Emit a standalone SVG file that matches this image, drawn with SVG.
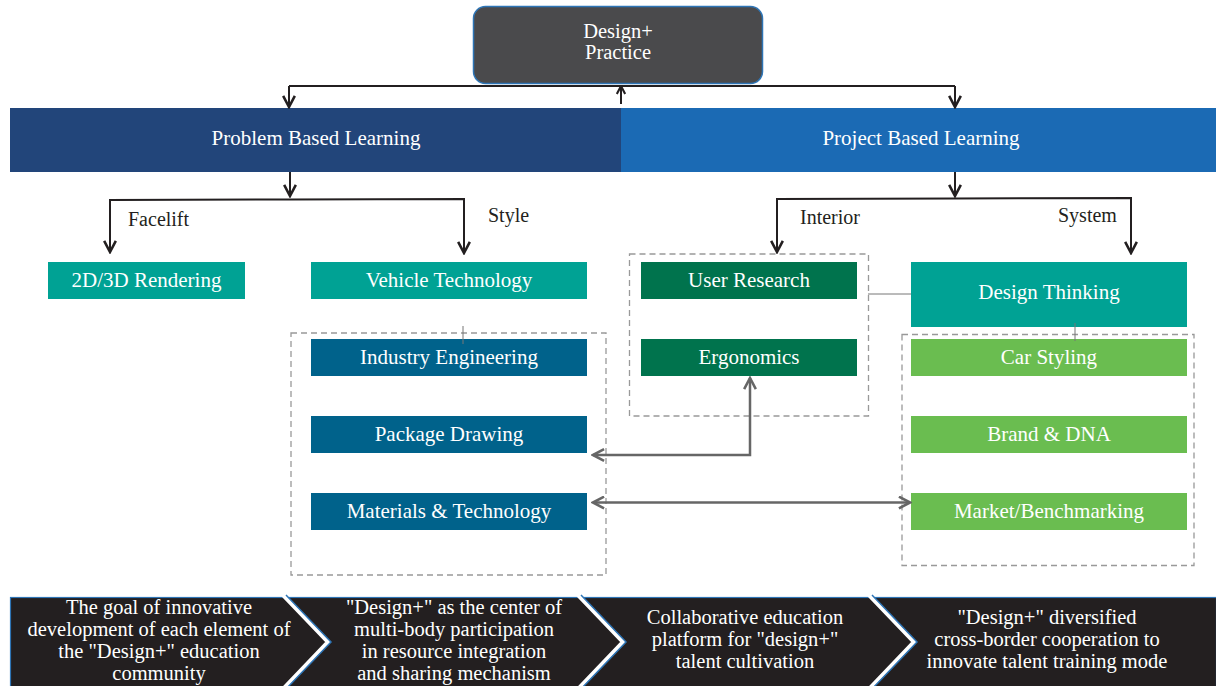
<svg xmlns="http://www.w3.org/2000/svg" width="1216" height="686" viewBox="0 0 1216 686">
<defs>
<marker id="ah" markerUnits="userSpaceOnUse" markerWidth="14" markerHeight="14" viewBox="0 0 12 12" refX="10.5" refY="6" orient="auto">
<path d="M1,1 L10.5,6 L1,11" fill="none" stroke="#231f20" stroke-width="2.2"/>
</marker>
<marker id="ahs" markerUnits="userSpaceOnUse" markerWidth="10" markerHeight="10" viewBox="0 0 12 12" refX="10.5" refY="6" orient="auto">
<path d="M1,1 L10.5,6 L1,11" fill="none" stroke="#231f20" stroke-width="2.5"/>
</marker>
<marker id="ag" markerUnits="userSpaceOnUse" markerWidth="14" markerHeight="14" viewBox="0 0 12 12" refX="10.5" refY="6" orient="auto-start-reverse">
<path d="M1,1 L10.5,6 L1,11" fill="none" stroke="#666" stroke-width="2.2"/>
</marker>
</defs>
<style>
text{font-family:"Liberation Serif","Times New Roman",serif;}
.w{fill:#fff;font-size:21px;text-anchor:middle;}
.top{fill:#fff;font-size:20.5px;text-anchor:middle;}
.band{fill:#fff;font-size:21px;text-anchor:middle;}
.lbl{fill:#231f20;font-size:20px;}
.bt{fill:#fff;font-size:20.5px;text-anchor:middle;}
.teal{fill:#00a294;}
.dblue{fill:#00628b;}
.dgreen{fill:#00734d;}
.lgreen{fill:#6abd50;}
.dash{fill:none;stroke:#999;stroke-width:1.3;stroke-dasharray:6 4;}
.blk{fill:none;stroke:#231f20;stroke-width:2;}
.gry{fill:none;stroke:#666;stroke-width:2.5;}
.thin{fill:none;stroke:#777;stroke-width:1;}
</style>

<g id="design-practice">
<rect x="473.5" y="6.5" width="289" height="77" rx="12" fill="#4a4a4c" stroke="#2e75b6" stroke-width="1.5"/>
<text class="top" x="618" y="38">Design+</text>
<text class="top" x="618" y="59">Practice</text>
</g>

<g id="problem-based">
<rect x="10" y="108" width="611" height="64" fill="#22457a"/>
<text class="band" x="316" y="145">Problem Based Learning</text>
</g>
<g id="project-based">
<rect x="621" y="108" width="595" height="64" fill="#1b6ab4"/>
<text class="band" x="921" y="145">Project Based Learning</text>
</g>

<g id="rendering"><rect class="teal" x="48" y="262" width="197" height="37"/><text class="w" x="146.5" y="287">2D/3D Rendering</text></g>
<g id="vehicle-tech"><rect class="teal" x="311" y="262" width="276" height="37"/><text class="w" x="449" y="287">Vehicle Technology</text></g>
<g id="pbl-group"><rect class="dash" x="291" y="333" width="315" height="242"/></g>
<g id="industry-eng"><rect class="dblue" x="311" y="339" width="276" height="37"/><text class="w" x="449" y="364">Industry Engineering</text></g>
<g id="package-drawing"><rect class="dblue" x="311" y="416" width="276" height="37"/><text class="w" x="449" y="441">Package Drawing</text></g>
<g id="materials-tech"><rect class="dblue" x="311" y="493" width="276" height="37"/><text class="w" x="449" y="518">Materials &amp; Technology</text></g>

<g id="interior-group"><rect class="dash" x="629.5" y="254" width="239" height="162"/></g>
<g id="user-research"><rect class="dgreen" x="641" y="262" width="216" height="37"/><text class="w" x="749" y="287">User Research</text></g>
<g id="ergonomics"><rect class="dgreen" x="641" y="339" width="216" height="37"/><text class="w" x="749" y="364">Ergonomics</text></g>

<g id="design-thinking"><rect class="teal" x="911" y="262" width="276" height="65"/><text class="w" x="1049" y="299">Design Thinking</text></g>
<g id="system-group"><rect class="dash" x="902" y="334.5" width="292" height="231"/></g>
<g id="car-styling"><rect class="lgreen" x="911" y="339" width="276" height="37"/><text class="w" x="1049" y="364">Car Styling</text></g>
<g id="brand-dna"><rect class="lgreen" x="911" y="416" width="276" height="37"/><text class="w" x="1049" y="441">Brand &amp; DNA</text></g>
<g id="market"><rect class="lgreen" x="911" y="493" width="276" height="37"/><text class="w" x="1049" y="518">Market/Benchmarking</text></g>

<g id="connectors">
<path class="blk" d="M289,86 L955,86"/>
<path class="blk" d="M289,86 L289,107" marker-end="url(#ah)"/>
<path class="blk" d="M955,86 L955,107" marker-end="url(#ah)"/>
<path class="blk" d="M621,104 L621,86" marker-end="url(#ahs)"/>
<path class="blk" d="M290,172 L290,196" marker-end="url(#ah)"/>
<path class="blk" d="M955,172 L955,196" marker-end="url(#ah)"/>
<path class="blk" d="M290,199.5 L110,200 L110,252" marker-end="url(#ah)"/>
<path class="blk" d="M290,199.5 L464,199 L464,253" marker-end="url(#ah)"/>
<path class="blk" d="M955,198.5 L777,199 L777,252" marker-end="url(#ah)"/>
<path class="blk" d="M955,198.5 L1131,198 L1131,253" marker-end="url(#ah)"/>
<path class="thin" d="M463,326 L463,344"/>
<path class="thin" d="M1075,323 L1075,341"/>
<path class="thin" d="M868,294 L911,294"/>
<path class="gry" d="M593,455 L750,455 L750,378" marker-start="url(#ag)" marker-end="url(#ag)"/>
<path class="gry" d="M593,502.5 L910,502.5" marker-start="url(#ag)" marker-end="url(#ag)"/>
<text class="lbl" x="128" y="226">Facelift</text>
<text class="lbl" x="488" y="222">Style</text>
<text class="lbl" x="800" y="224">Interior</text>
<text class="lbl" x="1058" y="222">System</text>
</g>

<g id="bottom-band">
<rect x="10.5" y="597.5" width="1206" height="92" fill="#231f20" stroke="#2e75b6" stroke-width="1.2"/>
<polyline points="283,595 328,642 283,689" fill="none" stroke="#fff" stroke-width="4"/>
<polyline points="286,595 331,642 286,689" fill="none" stroke="#2e75b6" stroke-width="1.5"/>
<polyline points="578,595 623,642 578,689" fill="none" stroke="#fff" stroke-width="4"/>
<polyline points="581,595 626,642 581,689" fill="none" stroke="#2e75b6" stroke-width="1.5"/>
<polyline points="869,595 914,642 869,689" fill="none" stroke="#fff" stroke-width="4"/>
<polyline points="872,595 917,642 872,689" fill="none" stroke="#2e75b6" stroke-width="1.5"/>
<text class="bt" x="159" y="614">The goal of innovative</text>
<text class="bt" x="159" y="636">development of each element of</text>
<text class="bt" x="159" y="658">the "Design+" education</text>
<text class="bt" x="159" y="680">community</text>
<text class="bt" x="454" y="614">"Design+" as the center of</text>
<text class="bt" x="454" y="636">multi-body participation</text>
<text class="bt" x="454" y="658">in resource integration</text>
<text class="bt" x="454" y="680">and sharing mechanism</text>
<text class="bt" x="745" y="624">Collaborative education</text>
<text class="bt" x="745" y="646">platform for "design+"</text>
<text class="bt" x="745" y="668">talent cultivation</text>
<text class="bt" x="1047" y="624">"Design+" diversified</text>
<text class="bt" x="1047" y="646">cross-border cooperation to</text>
<text class="bt" x="1047" y="668">innovate talent training mode</text>
</g>
</svg>
